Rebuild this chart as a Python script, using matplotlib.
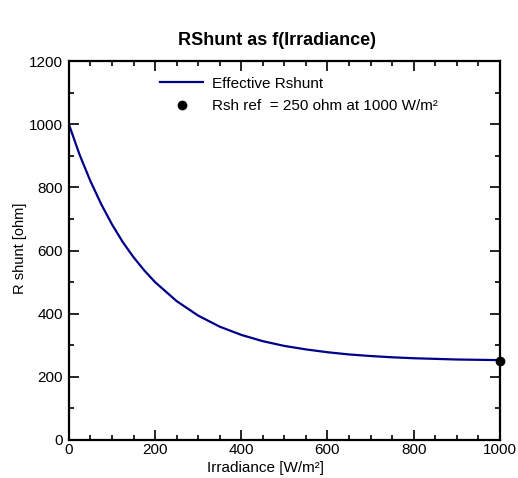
import matplotlib
matplotlib.use("Agg")
import matplotlib.pyplot as plt
from matplotlib.ticker import MultipleLocator
from matplotlib.lines import Line2D

plt.rcParams['font.family'] = ['Liberation Sans', 'DejaVu Sans']

irradiance = [0, 25, 50, 75, 100, 125, 150, 175, 200, 250, 300, 350, 400, 450, 500,
              550, 600, 650, 700, 750, 800, 850, 900, 950, 1000]
rshunt = [1000, 903, 820, 747, 683, 627, 579, 537, 500, 440, 394, 359, 333, 313, 298,
          287, 278, 271, 266, 262, 259, 257, 255, 254, 253]
ref_irr = [1000]
ref_rsh = [250]

title = "RShunt as f(Irradiance)"
xlabel = "Irradiance [W/m²]"
ylabel = "R shunt [ohm]"
leg_line = "Effective Rshunt"
leg_point = "Rsh ref  = 250 ohm at 1000 W/m²"

fig = plt.figure(figsize=(5.18, 4.78), dpi=100)
ax = fig.add_axes([0.133, 0.0795, 0.832, 0.7925])

ax.plot(irradiance, rshunt, color='#000088', lw=1.6)
ax.plot(ref_irr, ref_rsh, 'o', color='black', ms=6, clip_on=False, zorder=5)

ax.set_xlim(0, 1000)
ax.set_ylim(0, 1200)
ax.xaxis.set_major_locator(MultipleLocator(200))
ax.xaxis.set_minor_locator(MultipleLocator(50))
ax.yaxis.set_major_locator(MultipleLocator(200))
ax.yaxis.set_minor_locator(MultipleLocator(100))
ax.tick_params(which='both', direction='in', top=True, right=True, width=1.2,
               labelsize=11, colors='black')
ax.tick_params(which='major', length=7)
ax.tick_params(which='minor', length=3.5)
ax.tick_params(axis='x', which='major', pad=2)
ax.tick_params(axis='y', which='major', pad=4.5)
for s in ax.spines.values():
    s.set_linewidth(1.6)

fig.text(0.535, 0.915, title, ha='center', va='center', fontsize=13, fontweight='bold')
fig.text(0.512, 0.021, xlabel, ha='center', va='center', fontsize=11)
fig.text(0.039, 0.48, ylabel, ha='center', va='center', fontsize=10.5, rotation=90)

handles = [Line2D([], [], color='#000088', lw=1.6),
           Line2D([], [], ls='none', marker='o', color='black', ms=6)]
ax.legend(handles, [leg_line, leg_point], loc='upper left', bbox_to_anchor=(0.18, 0.995),
          frameon=False, fontsize=11, handlelength=2.8, handletextpad=0.6,
          labelspacing=0.55)

fig.savefig("out.png", dpi=100, facecolor='white')
